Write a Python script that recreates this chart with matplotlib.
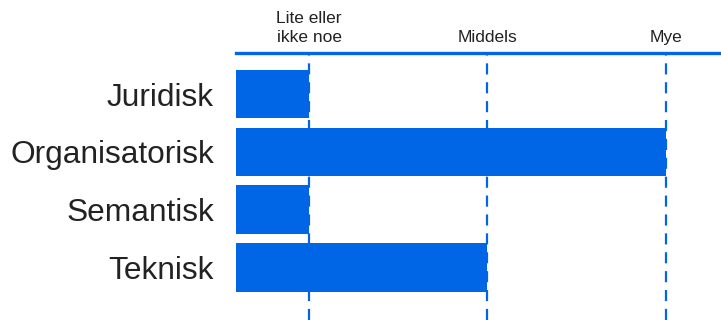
import matplotlib.pyplot as plt

categories = ["Juridisk", "Organisatorisk", "Semantisk", "Teknisk"]
values = [1, 3, 1, 2]
level_pos = [1, 2, 3]
level_labels = ["Lite eller\nikke noe", "Middels", "Mye"]

blue = "#0066e6"
text_col = "#222222"
plt.rcParams["font.family"] = ["Liberation Sans", "DejaVu Sans"]

fig = plt.figure(figsize=(7.21, 3.2), dpi=100)
ax = fig.add_axes([236 / 721, 0.0, 1 - 236 / 721, 1 - 53 / 320])

ypos = list(range(len(categories)))
ax.barh(ypos, values, height=0.84, left=0, color=blue, zorder=2)

# dashed guide lines at each level
for x in level_pos:
    ax.axvline(x, color=blue, linestyle=(0, (5, 3.5)), linewidth=1.6, zorder=1)

ax.set_xlim(0.59, 3.31)
ax.set_ylim(3.91, -0.71)

ax.set_yticks(ypos)
ax.set_yticklabels(categories, fontsize=22.8, color=text_col)
ax.tick_params(axis="y", length=0, pad=16)

ax.xaxis.tick_top()
ax.set_xticks(level_pos)
ax.set_xticklabels(level_labels, fontsize=12.5, color=text_col, linespacing=1.3)
for lbl in ax.get_xticklabels():
    lbl.set_multialignment("center")
ax.tick_params(axis="x", length=0, pad=6)

for side in ["left", "right", "bottom"]:
    ax.spines[side].set_visible(False)
ax.spines["top"].set_color(blue)
ax.spines["top"].set_linewidth(2.4)

fig.savefig("out.png", dpi=100)
